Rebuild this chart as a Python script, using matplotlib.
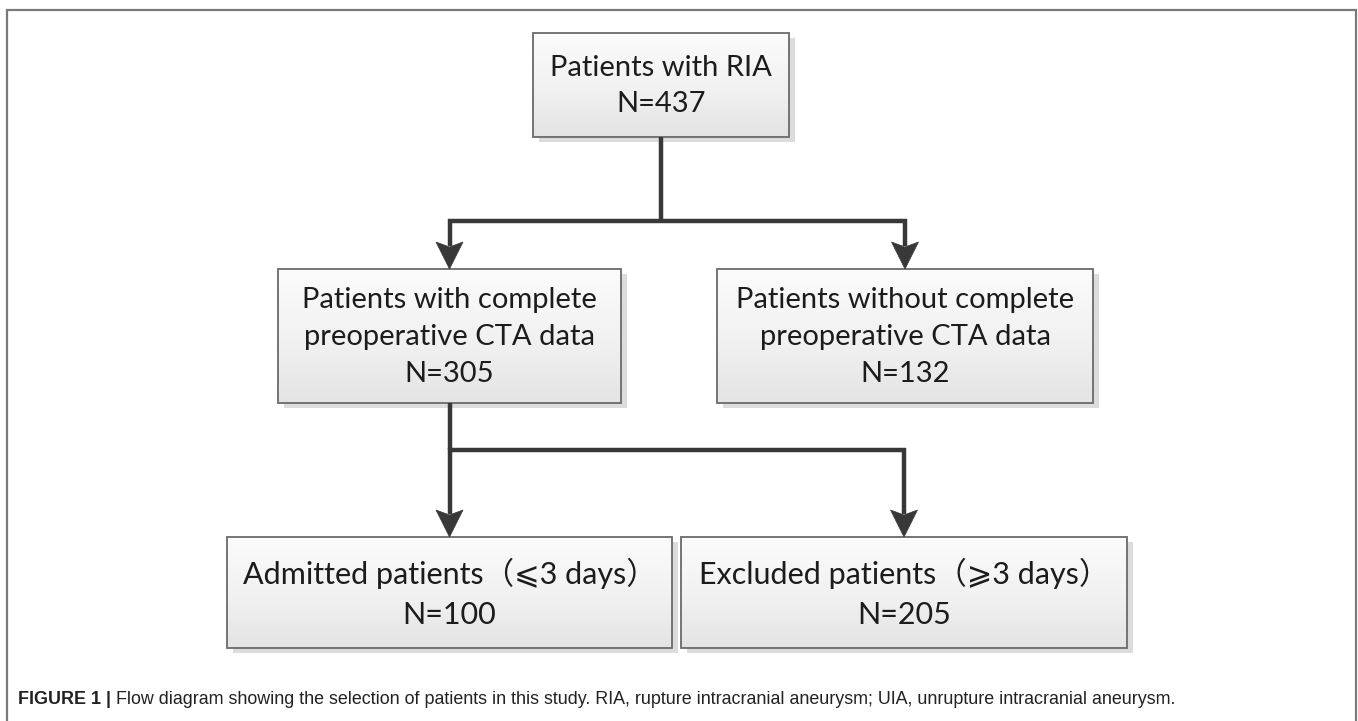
import numpy as np
import matplotlib.pyplot as plt
from matplotlib.patches import Rectangle, Polygon

# flow chart contents
stage_labels = [
    "Patients with RIA",
    "Patients with complete\npreoperative CTA data",
    "Patients without complete\npreoperative CTA data",
    "Admitted patients\uff08\u2a7d3 days\uff09",
    "Excluded patients\uff08\u2a7e3 days\uff09",
]
stage_counts = [437, 305, 132, 100, 205]
# parent -> children
links = [(0, [1, 2]), (1, [3, 4])]

caption_bold = "FIGURE 1 |"
caption_text = (" Flow diagram showing the selection of patients in this study. "
                "RIA, rupture intracranial aneurysm; UIA, unrupture intracranial aneurysm.")

# box layout in pixels (left, top, right, bottom)
boxes = [
    (533, 33, 789, 137),
    (278, 269, 621, 403),
    (717, 269, 1093, 403),
    (227, 537, 672, 648),
    (681, 537, 1127, 648),
]
branch_y = [221, 450]

W, H = 1358, 721
fig = plt.figure(figsize=(W / 100, H / 100), dpi=100)
ax = fig.add_axes([0, 0, 1, 1])
ax.set_xlim(0, W)
ax.set_ylim(H, 0)
ax.axis("off")

# outer frame (open at the bottom)
ax.plot([7, 7, 1356, 1356], [H + 5, 9.5, 9.5, H + 5], color="#7a7a7a", lw=1.6,
        solid_joinstyle="miter", zorder=1)

grad = np.linspace(0, 1, 64).reshape(-1, 1)
box_font = ["Lato", "Noto Sans CJK SC", "DejaVu Sans"]

for i, ((l, t, r, b), lab, n) in enumerate(zip(boxes, stage_labels, stage_counts)):
    # shadow
    ax.add_patch(Rectangle((l + 6, t + 5), r - l, b - t, facecolor="#dcdcdc",
                           edgecolor="none", zorder=2))
    # gradient fill
    rect = Rectangle((l, t), r - l, b - t, facecolor="none", edgecolor="#6a6a6a",
                     lw=1.3, zorder=4)
    ax.add_patch(rect)
    im = ax.imshow(grad, extent=(l, r, b, t), cmap="Greys", vmin=-0.2, vmax=6.0,
                   aspect="auto", zorder=3, interpolation="bilinear")
    im.set_clip_path(rect)
    fs = 22 if i >= 3 else 21
    ax.text((l + r) / 2, (t + b) / 2 + 1, f"{lab}\nN={n}", ha="center", va="center",
            fontsize=fs, family=box_font, color="#1c1c1c", linespacing=1.52, zorder=5)

# connectors
line_col = "#383838"
lw = 3.2
head_w, head_h, notch = 27, 27, 5

for j, (parent, kids) in enumerate(links):
    l, t, r, b = boxes[parent]
    px = (l + r) / 2
    yb = branch_y[j]
    ax.plot([px, px], [b, yb], color=line_col, lw=lw, solid_capstyle="butt", zorder=6)
    xs = [(boxes[k][0] + boxes[k][2]) / 2 for k in kids]
    ax.plot([min(xs) - 2, max(xs) + 2], [yb, yb], color=line_col, lw=lw,
            solid_capstyle="butt", zorder=6)
    for k, cx in zip(kids, xs):
        tip = boxes[k][1]
        ax.plot([cx, cx], [yb - 2, tip - head_h + 4], color=line_col, lw=lw,
                solid_capstyle="butt", zorder=6)
        ax.add_patch(Polygon([(cx, tip), (cx - head_w / 2, tip - head_h),
                              (cx, tip - head_h + notch), (cx + head_w / 2, tip - head_h)],
                             closed=True, facecolor=line_col, edgecolor=line_col,
                             lw=0.5, zorder=7))

# caption
cap_font = ["Liberation Sans", "DejaVu Sans"]
t1 = ax.text(18, 700, caption_bold, fontsize=12.9, family=cap_font, weight="bold",
             color="#222222", va="center", ha="left")
fig.canvas.draw()
bb = t1.get_window_extent()
ax.text(bb.x1, 700, caption_text, fontsize=12.9, family=cap_font,
        color="#222222", va="center", ha="left")

fig.savefig("out.png", dpi=100)
